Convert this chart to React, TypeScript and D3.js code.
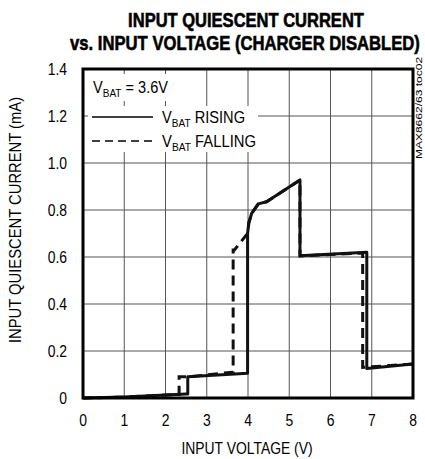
import React, { useLayoutEffect, useRef, useState } from 'react';
import * as d3 from 'd3';

// x ticks (V) and y ticks (mA)
const xTicks = [0, 1, 2, 3, 4, 5, 6, 7, 8];
const yTicks = [0, 0.2, 0.4, 0.6, 0.8, 1.0, 1.2, 1.4];
const yTickLabels = ['0', '0.2', '0.4', '0.6', '0.8', '1.0', '1.2', '1.4'];

// VBAT rising: [input voltage, current]
const risingV = [0, 1, 2.5, 2.54, 2.54, 3.99, 3.99, 4.02, 4.09, 4.25, 4.45, 5.26, 5.26, 6.88, 6.88, 8];
const risingI = [0, 0.004, 0.017, 0.017, 0.09, 0.105, 0.7, 0.745, 0.786, 0.826, 0.835, 0.928, 0.605, 0.62, 0.126, 0.145];

// VBAT falling
const fallingV = [8, 6.78, 6.78, 5.26, 5.26, 4.45, 4.25, 4.09, 4.02, 3.99, 3.67, 3.64, 3.64, 2.54, 2.33, 2.33, 1, 0];
const fallingI = [0.145, 0.13, 0.617, 0.605, 0.928, 0.835, 0.826, 0.786, 0.745, 0.7, 0.63, 0.63, 0.11, 0.09, 0.09, 0.015, 0.004, 0];

const FONT = "'Liberation Sans', 'DejaVu Sans', sans-serif";

// text squeezed horizontally to a target width (condensed look)
function Fit({ x, y, w, rotate = 0, anchor = 'middle', children, ...rest }: any) {
  const ref = useRef<SVGTextElement | null>(null);
  const [s, setS] = useState(0.8);
  useLayoutEffect(() => {
    if (!ref.current) return;
    const len = ref.current.getComputedTextLength();
    if (len > 0) setS(w / len);
  }, [w]);
  return (
    <g transform={`translate(${x},${y}) rotate(${rotate}) scale(${s},1)`}>
      <text ref={ref} textAnchor={anchor} {...rest}>{children}</text>
    </g>
  );
}

export default function App() {
  const width = 425;
  const height = 459;
  const m = { left: 83, right: 413, top: 69, bottom: 398 };

  const x = d3.scaleLinear().domain([0, 8]).range([m.left, m.right]);
  const y = d3.scaleLinear().domain([0, 1.4]).range([m.bottom, m.top]);

  const line = d3.line<[number, number]>()
    .x(d => x(d[0]))
    .y(d => y(d[1]));

  const rising = risingV.map((v, i) => [v, risingI[i]] as [number, number]);
  const falling = fallingV.map((v, i) => [v, fallingI[i]] as [number, number]);

  const grid = '#555';
  const cond = 0.82;

  return (
    <svg width={width} height={height} style={{ position: 'absolute', left: 0, top: 0 }}
      fontFamily={FONT}>
      <rect width={width} height={height} fill="#fff" />

      {/* title */}
      <Fit x={246} y={27} w={236} fontSize={20} fontWeight="bold" stroke="#000" strokeWidth={0.6}>INPUT QUIESCENT CURRENT</Fit>
      <Fit x={245} y={50} w={350} fontSize={20} fontWeight="bold" stroke="#000" strokeWidth={0.6}>vs. INPUT VOLTAGE (CHARGER DISABLED)</Fit>

      {/* grid */}
      {xTicks.slice(1, -1).map(t => (
        <line key={'gx' + t} x1={x(t)} x2={x(t)} y1={m.top} y2={m.bottom} stroke={grid} strokeWidth={1} />
      ))}
      {yTicks.slice(1, -1).map(t => (
        <line key={'gy' + t} x1={m.left} x2={m.right} y1={y(t)} y2={y(t)} stroke={grid} strokeWidth={1} />
      ))}

      {/* legend background */}
      <rect x={85} y={74} width={88} height={27} fill="#fff" />
      <rect x={88} y={106} width={170} height={46} fill="#fff" />

      {/* legend */}
      <Fit x={93} y={93} w={75} anchor="start" fontSize={16}>V<tspan fontSize={11} dy={4}>BAT</tspan><tspan dy={-4}> = 3.6V</tspan></Fit>
      <line x1={92} x2={153} y1={117} y2={117} stroke="#000" strokeWidth={1.5} />
      <Fit x={162} y={123} w={83} anchor="start" fontSize={16}>V<tspan fontSize={11} dy={4}>BAT</tspan><tspan dy={-4}> RISING</tspan></Fit>
      <line x1={92} x2={153} y1={141} y2={141} stroke="#000" strokeWidth={1.5} strokeDasharray="8,5" />
      <Fit x={162} y={147} w={94} anchor="start" fontSize={16}>V<tspan fontSize={11} dy={4}>BAT</tspan><tspan dy={-4}> FALLING</tspan></Fit>

      {/* curves */}
      <path d={line(falling) || ''} fill="none" stroke="#111" strokeWidth={3} strokeDasharray="10,6" />
      <path d={line(rising) || ''} fill="none" stroke="#111" strokeWidth={3} strokeLinejoin="round" />

      {/* frame */}
      <rect x={m.left} y={m.top} width={m.right - m.left} height={m.bottom - m.top}
        fill="none" stroke="#000" strokeWidth={3} />

      {/* y ticks */}
      {yTicks.map((t, i) => (
        <g key={'yt' + t} transform={`translate(67,${y(t)}) scale(${cond},1)`}>
          <text dy="0.35em" textAnchor="end" fontSize={17}>{yTickLabels[i]}</text>
        </g>
      ))}
      {/* x ticks */}
      {xTicks.map(t => (
        <g key={'xt' + t} transform={`translate(${x(t)},426) scale(${cond},1)`}>
          <text textAnchor="middle" fontSize={17}>{t}</text>
        </g>
      ))}

      {/* axis titles */}
      <Fit x={247} y={454} w={131} fontSize={16}>INPUT VOLTAGE (V)</Fit>
      <Fit x={21} y={220} w={246} rotate={-90} fontSize={16}>INPUT QUIESCENT CURRENT (mA)</Fit>

      {/* figure code */}
      <Fit x={422} y={108} w={102} rotate={-90} fontSize={9}>MAX8662/63 toc02</Fit>
    </svg>
  );
}
